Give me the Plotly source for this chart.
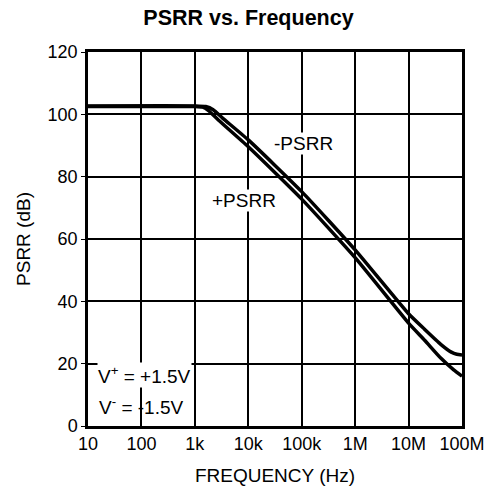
import plotly.graph_objects as go

# Frequency points (Hz) and PSRR readings (dB)
freq_neg = [10, 1e3, 1.6e3, 2.2e3, 3.3e3, 1e4, 1e5, 1e6, 1e7, 2e7, 4e7, 6.3e7, 8e7, 1e8]
psrr_neg = [102.7, 102.7, 102.5, 101.5, 98.8, 91.8, 75.2, 56.5, 36, 31, 26.2, 23.7, 23.0, 22.8]
freq_pos = [10, 1e3, 1.4e3, 1.8e3, 2.75e3, 1e4, 1e5, 1e6, 1e7, 2e7, 4e7, 7e7, 1e8]
psrr_pos = [102.5, 102.5, 102.3, 101.2, 98.2, 89.6, 72.8, 54, 33, 27.5, 21.8, 18, 16]

x_tickvals = [10, 100, 1e3, 1e4, 1e5, 1e6, 1e7, 1e8]
x_ticktext = ["10", "100", "1k", "10k", "100k", "1M", "10M", "100M"]
y_tickvals = [0, 20, 40, 60, 80, 100, 120]

FONT = "Liberation Sans, Arial, sans-serif"

fig = go.Figure()
for xs, ys in ((freq_neg, psrr_neg), (freq_pos, psrr_pos)):
    fig.add_trace(go.Scatter(
        x=xs, y=ys, mode="lines",
        line=dict(color="black", width=3.5, shape="spline", smoothing=0.5),
        showlegend=False, hoverinfo="skip",
    ))

ann_font = dict(family=FONT, size=19, color="black")
fig.add_annotation(x=5.03, y=90.8, text="-PSRR", showarrow=False, font=ann_font,
                   xref="x", yref="y", bgcolor="white", borderpad=0)
fig.add_annotation(x=3.92, y=72.2, text="+PSRR", showarrow=False, font=ann_font,
                   xref="x", yref="y", bgcolor="white", borderpad=0)
fig.add_annotation(x=1.17, y=16.3, text="V<sup>+</sup> = +1.5V", showarrow=False,
                   font=ann_font, xref="x", yref="y", xanchor="left",
                   bgcolor="white", borderpad=0)
fig.add_annotation(x=1.17, y=6.4, text="V<sup>-</sup> = -1.5V", showarrow=False,
                   font=ann_font, xref="x", yref="y", xanchor="left")

fig.update_layout(
    width=497, height=493,
    margin=dict(l=88, r=35, t=52, b=67, autoexpand=False),
    paper_bgcolor="white", plot_bgcolor="white",
    font=dict(family=FONT, size=18, color="black"),
    title=dict(text="<b>PSRR vs. Frequency</b>", x=0.5, xanchor="center",
               y=0.964, yanchor="middle", font=dict(family=FONT, size=21.5)),
)
fig.update_xaxes(
    type="log", range=[1, 8], automargin=False,
    tickvals=x_tickvals, ticktext=x_ticktext,
    showgrid=True, gridcolor="black", gridwidth=1.5,
    showline=True, linecolor="black", linewidth=2.5, mirror=True,
    ticks="", zeroline=False,
    title=dict(text="FREQUENCY (Hz)", standoff=16, font=dict(size=19)),
    tickfont=dict(size=18),
)
fig.update_yaxes(
    range=[0, 120], tickvals=y_tickvals, automargin=False,
    showgrid=True, gridcolor="black", gridwidth=1.5,
    showline=True, linecolor="black", linewidth=2.5, mirror=True,
    ticks="outside", ticklen=4, tickcolor="black", zeroline=False,
    title=dict(text="PSRR (dB)", standoff=12, font=dict(size=19)),
    tickfont=dict(size=18),
)

fig.write_html("out.html")
